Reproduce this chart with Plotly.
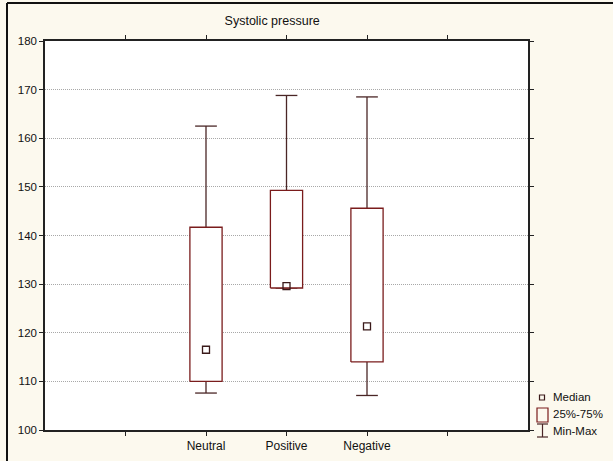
import plotly.graph_objects as go

categories = ["Neutral", "Positive", "Negative"]
positions = [2, 3, 4]
q1 = [110.0, 129.2, 114.0]
q3 = [141.7, 149.3, 145.6]
medians = [116.5, 129.6, 121.3]
mins = [107.6, 129.2, 107.1]
maxs = [162.5, 168.8, 168.5]

BOX_COL = "#7a1c1c"
WH_COL = "#4a2626"
hw = 0.2    # box half width (x units)
cw = 0.135  # cap half width

fig = go.Figure()
for p, a, b, m, lo, hi in zip(positions, q1, q3, medians, mins, maxs):
    fig.add_trace(go.Scatter(x=[p, p, None, p - cw, p + cw], y=[b, hi, None, hi, hi],
                             mode="lines", line=dict(color=WH_COL, width=1.3),
                             showlegend=False, hoverinfo="skip"))
    fig.add_trace(go.Scatter(x=[p, p, None, p - cw, p + cw], y=[a, lo, None, lo, lo],
                             mode="lines", line=dict(color=WH_COL, width=1.3),
                             showlegend=False, hoverinfo="skip"))
    fig.add_trace(go.Scatter(x=[p - hw, p + hw, p + hw, p - hw, p - hw], y=[a, a, b, b, a],
                             mode="lines", line=dict(color=BOX_COL, width=1.3),
                             fill="toself", fillcolor="white",
                             showlegend=False, hoverinfo="skip"))
    fig.add_trace(go.Scatter(x=[p], y=[m], mode="markers",
                             marker=dict(symbol="square-open", size=7, color="#3a1a1a",
                                         line=dict(width=1.3)),
                             showlegend=False, hoverinfo="skip"))

fig.update_layout(
    width=613, height=461,
    margin=dict(l=45, r=85, t=41, b=31),
    paper_bgcolor="#fcf9ee", plot_bgcolor="white",
    font=dict(family="Liberation Sans, Arial, sans-serif", size=11, color="#111"),
    showlegend=False,
    title=dict(text="Systolic pressure", x=0.444, xanchor="center", y=0.955, yanchor="middle",
               font=dict(size=12.5, color="#111")),
    xaxis=dict(range=[0, 6], tickmode="array", tickvals=[1, 2, 3, 4, 5],
               ticktext=["", categories[0], categories[1], categories[2], ""],
               tickfont=dict(size=12), automargin=False,
               showgrid=False, zeroline=False, showline=True, linecolor="#222", linewidth=1.5,
               mirror="ticks", ticks="outside", ticklen=4, tickcolor="#222"),
    yaxis=dict(range=[100, 180], tickmode="array", tickvals=list(range(100, 181, 10)),
               tickfont=dict(size=11.5), automargin=False,
               showgrid=True, gridcolor="#a8a8a8", griddash="1px,1px", gridwidth=1,
               zeroline=False, showline=True, linecolor="#222", linewidth=1.5,
               mirror="ticks", ticks="outside", ticklen=4, tickcolor="#222"),
)

def px_x(x):
    return (x - 45) / (528 - 45)

def px_y(y):
    return (430 - y) / (430 - 41)

# outer frame: top and left edges
fig.add_shape(type="line", xref="paper", yref="paper", x0=px_x(7), x1=px_x(640),
              y0=px_y(3), y1=px_y(3), line=dict(color="#111", width=2))
fig.add_shape(type="line", xref="paper", yref="paper", x0=px_x(7), x1=px_x(7),
              y0=px_y(3), y1=px_y(480), line=dict(color="#111", width=2))

fig.add_shape(type="rect", xref="paper", yref="paper",
              x0=px_x(539.5), x1=px_x(544.5), y0=px_y(400), y1=px_y(395),
              line=dict(color="#3a1a1a", width=1.2))
fig.add_shape(type="rect", xref="paper", yref="paper",
              x0=px_x(537), x1=px_x(548), y0=px_y(422), y1=px_y(408),
              line=dict(color=BOX_COL, width=1.2))
fig.add_shape(type="line", xref="paper", yref="paper",
              x0=px_x(542.5), x1=px_x(542.5), y0=px_y(437), y1=px_y(424),
              line=dict(color=WH_COL, width=1.2))
fig.add_shape(type="line", xref="paper", yref="paper",
              x0=px_x(537), x1=px_x(548), y0=px_y(437), y1=px_y(437),
              line=dict(color=WH_COL, width=1.2))
fig.add_shape(type="line", xref="paper", yref="paper",
              x0=px_x(537), x1=px_x(548), y0=px_y(424), y1=px_y(424),
              line=dict(color=WH_COL, width=1.2))
for txt, yy in [("Median", 397), ("25%-75%", 414), ("Min-Max", 431)]:
    fig.add_annotation(xref="paper", yref="paper", x=px_x(551), y=px_y(yy), text=txt,
                       showarrow=False, xanchor="left", yanchor="middle",
                       font=dict(size=11.5, color="#111"))

fig.write_html("out.html")
